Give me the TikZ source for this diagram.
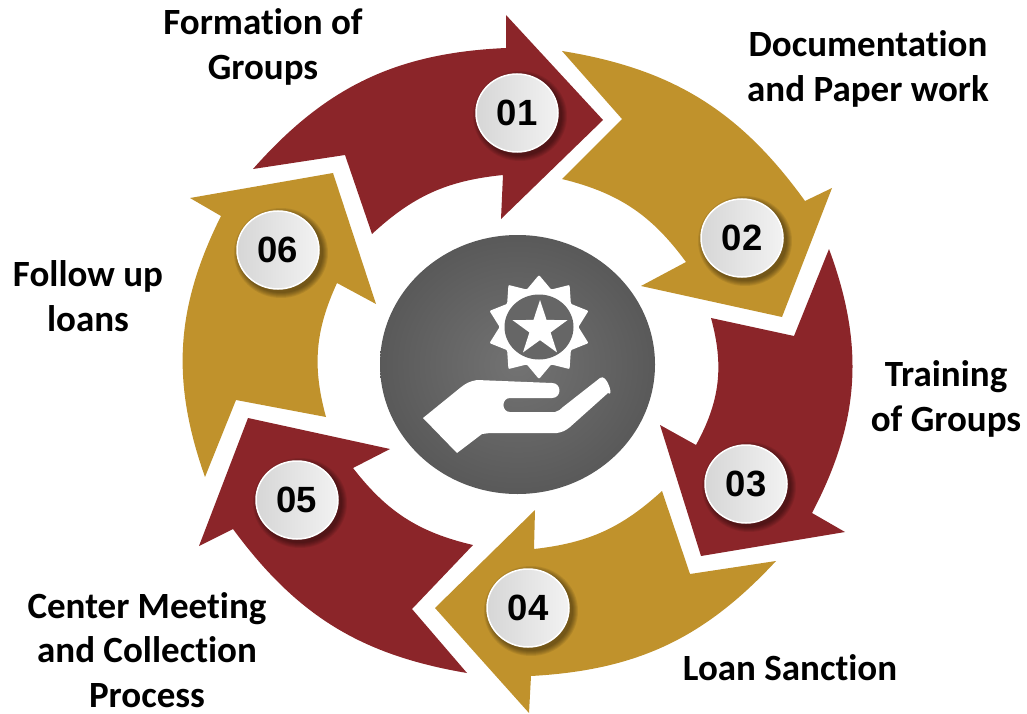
\documentclass[tikz,border=0pt]{standalone}
\usepackage{fontspec}
\setmainfont{Carlito}[Ligatures=NoCommon]
\newfontfamily\badgefont{Liberation Sans}
\usetikzlibrary{shapes.geometric}
\definecolor{loanred}{HTML}{8B2529}
\definecolor{loangold}{HTML}{C0922C}

\begin{document}
\begin{tikzpicture}[x=1pt, y=-1pt,
        redarrow/.style={fill=loanred},
        goldarrow/.style={fill=loangold},
        caption/.style={align=center, inner sep=0pt, font=\fontsize{37}{44.5}\selectfont\bfseries},
        badge/.style={ellipse, inner sep=0pt, minimum width=82pt, minimum height=78pt, draw=white, line width=1.5pt,
            left color=black!16, right color=black!5, font=\fontsize{36.5}{36.5}\selectfont\badgefont\bfseries},
        iconwhite/.style={fill=white, draw=none, inner sep=0pt, outer sep=0pt}]
    \useasboundingbox (0,0) rectangle (1027,714);
    % the six arrows
    \path[redarrow] (253,169) to[bend left=23] (506,48) -- (506,15) -- (603,120) -- (501,219) -- (503,175)
        to[bend right=18.5] (372,234) -- (345,155) -- cycle;
    \path[goldarrow] (562,51) to[bend left=22.5] (805,201) -- (832,188) -- (782,317) -- (641,286) -- (686,262)
        to[bend right=20] (562,179) -- (622,119) -- cycle;
    \path[redarrow] (829,249) to[bend left=24] (812,513) -- (845,532) -- (701,556) -- (660,425) -- (696,445)
        to[bend right=22] (711,318) -- (794,336) -- cycle;
    \path[goldarrow] (776,561) to[bend left=22] (531,676) -- (529,713) -- (435,608) -- (535,510) -- (534,549)
        to[bend right=18] (662,491) -- (690,574) -- cycle;
    \path[redarrow] (467,673) to[bend left=22] (233,529) -- (199,546) -- (248,418) -- (390,449) -- (353,468)
        to[bend right=19.5] (473,545) -- (412,609) -- cycle;
    \path[goldarrow] (205,477) to[bend left=23] (221,216) -- (190,198) -- (333,173) -- (376,304) -- (337,283)
        to[bend right=20] (326,417) -- (236,400) -- cycle;
    % centre disc and icon
    \node[ellipse, inner sep=0pt, minimum width=275pt, minimum height=259pt, shading=radial,
        inner color=black!55, outer color=black!65] (disc) at (517.5,364.5) {};
    \node[iconwhite, star, star points=10, star point ratio=1.32, minimum size=104pt, rounded corners=1pt] (gear) at (539,327) {};
    \node[ellipse, inner sep=0pt, minimum width=69pt, minimum height=65pt, fill=black!60] (gearhole) at (539,327) {};
    \node[iconwhite, star, star points=5, star point ratio=2.6, minimum size=58pt] (gearstar) at (540,329) {};
    \fill[white] (423,418) -- (457,453) -- (482,434) to[bend left=5] (490,433) -- (557,433)
        to[bend right=15] (570,427) -- (608,393) to[out=-40, in=40, looseness=1.3] (600,378) -- (563,407)
        to[bend left=15] (555,412) -- (510,412) to[out=180, in=180, looseness=1.6] (510,398) -- (552,398)
        to[out=0, in=0, looseness=1.7] (552,383) -- (477,380) to[bend right=15] (460,388) -- cycle;
    % numbers
    \foreach \x/\y/\num in {517/113/01, 742/238/02, 746/484/03, 528/608/04, 297/500/05, 278/250/06}{
        \foreach \k in {1,...,6}
            \fill[black, opacity=0.08] (\x+3,\y+3) ellipse ({41+\k} and {39+\k});
        \node[badge] (badge\num) at (\x,\y) {\num};
    }
    % captions
    \node[caption] (formation) at (263,47) {Formation of\\Groups};
    \node[caption] (paperwork) at (868,69) {Documentation\\and Paper work};
    \node[caption] (training) at (946,399) {Training\\of Groups};
    \node[caption] (sanction) at (790,668) {Loan Sanction};
    \node[caption] (collection) at (147,650) {Center Meeting\\and Collection\\Process};
    \node[caption] (followup) at (88,296) {Follow up\\loans};
\end{tikzpicture}
\end{document}
